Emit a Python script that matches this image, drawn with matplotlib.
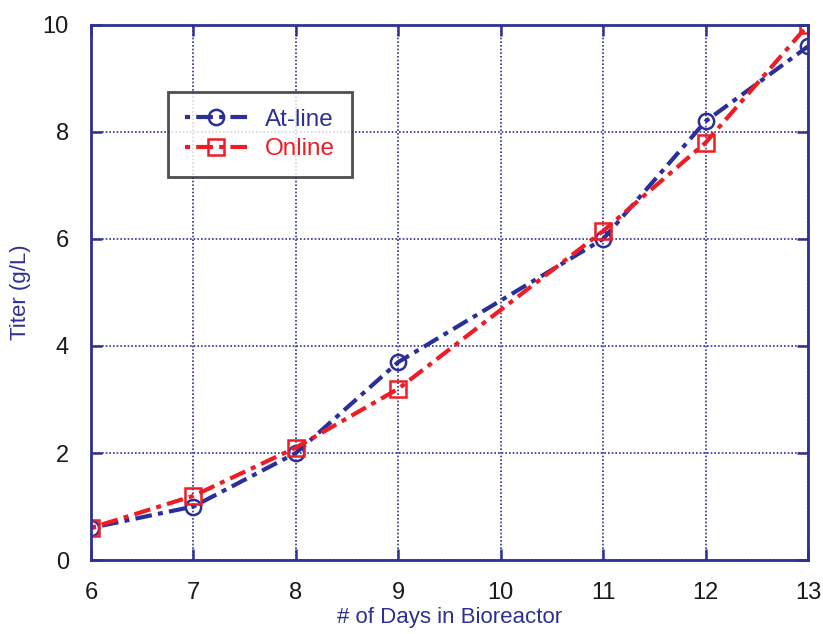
import matplotlib.pyplot as plt

days = [6, 7, 8, 9, 11, 12, 13]
atline = [0.6, 1.0, 2.0, 3.7, 6.0, 8.2, 9.6]
online = [0.6, 1.2, 2.1, 3.2, 6.15, 7.8, 10.0]

navy = "#2e3192"
blue = "#2b2f9a"
red = "#ee1c24"

plt.rcParams["font.family"] = ["Liberation Sans", "DejaVu Sans"]

fig = plt.figure(figsize=(8.23, 6.34), dpi=100)
ax = fig.add_axes([0.1106, 0.1167, 0.8712, 0.8439])

ax.plot(days, atline, color=blue, lw=3, dashes=(1.2, 1.5, 4, 1.5),
        marker="o", ms=11, mfc="none", mec=blue, mew=1.8, label="At-line")
ax.plot(days, online, color=red, lw=3, dashes=(1.2, 1.5, 4, 1.5),
        marker="s", ms=11, mfc="none", mec=red, mew=1.8, label="Online")

ax.set_xlim(6, 13)
ax.set_ylim(0, 10)
ax.set_xticks(range(6, 14))
ax.set_yticks(range(0, 11, 2))
ax.grid(True, color=navy, ls=(0, (1, 1.2)), lw=1.2)
for s in ax.spines.values():
    s.set_color(navy)
    s.set_linewidth(2)
ax.tick_params(direction="in", length=8, width=1.8, color=navy,
               labelsize=17, pad=16, top=True, right=True)
for lab in ax.get_xticklabels() + ax.get_yticklabels():
    lab.set_color("#1a1a1a")
ax.set_xlabel("# of Days in Bioreactor", color=navy, fontsize=16, labelpad=2)
ax.set_ylabel("Titer (g/L)", color=navy, fontsize=16, labelpad=8)

leg = ax.legend(loc="upper left", bbox_to_anchor=(0.107, 0.875), fontsize=17.5,
                borderaxespad=0, frameon=True, fancybox=False, handlelength=2.6,
                borderpad=0.7, labelspacing=0.3, handletextpad=0.7)
leg.get_frame().set_edgecolor("#222222")
leg.get_frame().set_linewidth(2)
for t, c in zip(leg.get_texts(), [navy, red]):
    t.set_color(c)

fig.savefig("out.png", dpi=100)
